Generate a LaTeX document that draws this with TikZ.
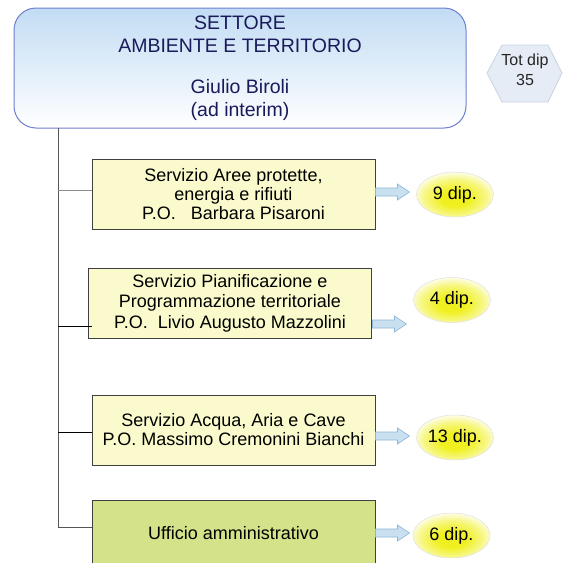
\documentclass[tikz,border=0pt]{standalone}
\usepackage{fontspec}
\setmainfont{Liberation Sans}
\usetikzlibrary{shapes.geometric}
\definecolor{navy}{HTML}{1A1A5A}
\definecolor{topblue}{HTML}{C2DCF4}
\definecolor{topborder}{HTML}{6F7FD0}
\definecolor{boxfill}{HTML}{FAFACC}
\definecolor{greenfill}{HTML}{D4E389}
\definecolor{arrfill}{HTML}{C9E0F1}
\definecolor{arrdraw}{HTML}{8DB6D6}
\definecolor{hexfill}{HTML}{E6ECF5}
\definecolor{hexdraw}{HTML}{C9D3E2}
\definecolor{ellyel}{HTML}{F0F020}
\definecolor{linegray}{HTML}{555555}
\pgfdeclareradialshading{dipshade}{\pgfpoint{0bp}{-5bp}}{color(0bp)=(ellyel); color(9bp)=(ellyel); color(20bp)=(ellyel!55!white); color(27bp)=(ellyel!12!white); color(50bp)=(white)}
\tikzset{
  servbox/.style={draw=black!75, fill=boxfill, line width=0.8pt, minimum width=283pt, minimum height=70pt, align=center, font=\fontsize{18}{19}\selectfont, inner sep=0pt},
  dipell/.style={ellipse, shading=dipshade, draw=black!12, line width=0.5pt, minimum width=77pt, minimum height=45pt, inner sep=0pt, font=\fontsize{18}{20}\selectfont},
  blockarr/.style={fill=arrfill, draw=arrdraw, line width=0.6pt},
  branch/.style={draw=linegray, line width=0.8pt}
}
\begin{document}
\begin{tikzpicture}[x=1pt,y=-1pt]
\useasboundingbox (0,0) rectangle (563,563);
% top box
\node[draw=topborder, line width=1pt, rounded corners=22pt, top color=topblue, bottom color=white, minimum width=452pt, minimum height=120pt, inner sep=0pt, align=center, text=navy, font=\fontsize{19.5}{23}\selectfont] (top) at (240,68)
  {SETTORE\\AMBIENTE E TERRITORIO\\[18pt]Giulio Biroli\\(ad interim)};
% hexagon
\draw[fill=hexfill, draw=hexdraw, line width=0.8pt] (487,73) -- (502,45) -- (548,45) -- (562,73) -- (548,102) -- (502,102) -- cycle;
\node[align=center, font=\fontsize{16}{20}\selectfont, text=black!85] (hex) at (525,70) {Tot dip\\35};
% service boxes
\node[servbox] (b1) at (233.5,194) {Servizio Aree protette,\\energia e rifiuti\\P.O.~~~Barbara Pisaroni};
\node[servbox, font=\fontsize{18}{20.5}\selectfont] (b2) at (230,303) {Servizio Pianificazione e\\Programmazione territoriale\\P.O.~~Livio Augusto Mazzolini};
\node[servbox] (b3) at (233.5,430) {Servizio Acqua, Aria e Cave\\P.O. Massimo Cremonini Bianchi};
\node[servbox, fill=greenfill, minimum height=80pt, anchor=north] (b4) at (233.5,500) {};
\node[font=\fontsize{18}{19}\selectfont] (b4t) at (233.5,533) {Ufficio amministrativo};
% tree connectors
\coordinate (vtop) at (58,128);
\coordinate (vbot) at (58,527);
\coordinate (j1) at (58,190);
\coordinate (j2) at (58,326);
\coordinate (j3) at (58,432);
\draw[branch] (vtop) -- (vbot);
\draw[branch, draw=black!45] (j1) -- (j1 -| b1.west);
\draw[branch, draw=black] (j2) -- ++(34,0);
\draw[branch, draw=black] (j3) -- (j3 -| b3.west);
\draw[branch] (vbot) -- (vbot -| b4.west);
% ellipses
\node[dipell] (e1) at (455,194.5) {9 dip.};
\node[dipell] (e2) at (452,300) {4 dip.};
\node[dipell] (e3) at (455,437.5) {13 dip.};
\node[dipell] (e4) at (451.5,535.5) {6 dip.};
% block arrows
\foreach \xs/\yy in {375.5/192, 372.5/324, 375.5/436, 375.5/533}{
  \draw[blockarr] (\xs,\yy-4) -- (\xs+22,\yy-4) -- (\xs+22,\yy-8) -- (\xs+34,\yy) -- (\xs+22,\yy+8) -- (\xs+22,\yy+4) -- (\xs,\yy+4) -- cycle;
}
\end{tikzpicture}
\end{document}
